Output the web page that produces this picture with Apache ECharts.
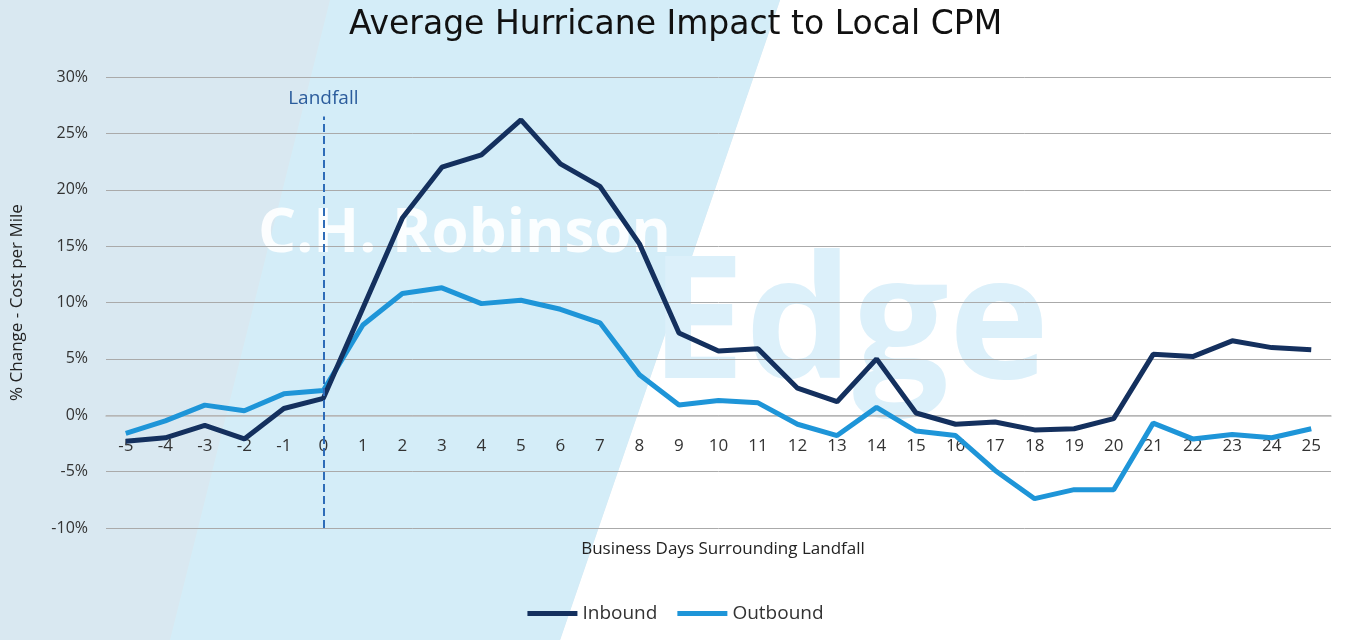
<!DOCTYPE html><html><head><meta charset="utf-8"><script src="https://cdn.jsdelivr.net/npm/echarts@6/dist/echarts.min.js"></script>
<style>html,body{margin:0;padding:0}#c{width:1351px;height:640px}</style></head><body><div id="c"></div><script>
const days=['-5','-4','-3','-2','-1','0','1','2','3','4','5','6','7','8','9','10','11','12','13','14','15','16','17','18','19','20','21','22','23','24','25'];
const inbound=[-2.3,-2.0,-0.9,-2.1,0.6,1.5,9.5,17.5,22.0,23.1,26.2,22.3,20.3,15.2,7.3,5.7,5.9,2.4,1.2,5.0,0.2,-0.8,-0.6,-1.3,-1.2,-0.3,5.4,5.2,6.6,6.0,5.8];
const outbound=[-1.6,-0.5,0.9,0.4,1.9,2.2,8.0,10.8,11.3,9.9,10.2,9.4,8.2,3.6,0.9,1.3,1.1,-0.8,-1.8,0.7,-1.4,-1.8,-4.9,-7.4,-6.6,-6.6,-0.7,-2.1,-1.7,-2.0,-1.2];
const ch=echarts.init(document.getElementById('c'));
ch.setOption({
 backgroundColor:'#ffffff',
 graphic:[
  {type:'polygon',z:-10,shape:{points:[[0,0],[780,0],[560,640],[0,640]]},style:{fill:'#d9e8f1'}},
  {type:'polygon',z:-9,shape:{points:[[330,0],[780,0],[560,640],[170,640]]},style:{fill:'#d4edf8'}},
  {type:'text',z:-8,left:258,top:205,style:{text:'C.H. Robinson',fill:'#ffffff',font:'bold 60px "Open Sans"',opacity:0.9}},
  {type:'text',z:-8,left:650,top:245,style:{text:'Edge',fill:'#dcf0fa',font:'bold 170px "Open Sans"'}}
 ],
 title:[{text:'Average Hurricane Impact to Local CPM',left:'center',top:4,textStyle:{fontFamily:'DejaVu Sans',fontSize:33,fontWeight:'normal',color:'#111'}},
  {text:'Business Days Surrounding Landfall',left:718,textAlign:'center',top:536,textStyle:{fontFamily:'Open Sans',fontSize:17,fontWeight:'normal',color:'#222'}}],
 legend:{bottom:12,left:'center',itemWidth:50,itemGap:20,icon:'rect',itemHeight:5,textStyle:{fontFamily:'Open Sans',fontSize:19,color:'#333'},data:['Inbound','Outbound']},
 grid:{left:106,right:20,top:77,bottom:112,containLabel:false,outerBoundsMode:'none'},
 xAxis:{type:'category',data:days,boundaryGap:true,
  axisLine:{onZero:true,lineStyle:{color:'#bbb',width:1.5}},axisTick:{show:false},axisLabel:{fontFamily:'Open Sans',fontSize:17,color:'#333',interval:0,margin:-90}},
 yAxis:{type:'value',min:-10,max:30,interval:5,name:'% Change - Cost per Mile',nameLocation:'middle',nameGap:80,nameTextStyle:{fontFamily:'Open Sans',fontSize:17,color:'#222'},
  axisLabel:{formatter:'{value}%',fontFamily:'Open Sans',fontSize:16,color:'#333',margin:18},splitLine:{lineStyle:{color:'#aaa',width:1}},axisLine:{show:false},axisTick:{show:false}},
 series:[
  {name:'Inbound',type:'line',data:inbound,showSymbol:false,lineStyle:{color:'#14305e',width:5},itemStyle:{color:'#14305e'},z:3,
   markLine:{symbol:'none',silent:true,lineStyle:{type:'dashed',color:'#2e6cb8',width:2},label:{show:true,position:'end',formatter:'Landfall',fontFamily:'Open Sans',fontSize:19,color:'#2b5c9c',distance:8},
    data:[[{xAxis:5,yAxis:-10},{xAxis:5,yAxis:26.5}]]}},
  {name:'Outbound',type:'line',data:outbound,showSymbol:false,lineStyle:{color:'#1e95d8',width:5},itemStyle:{color:'#1e95d8'},z:2}
 ]
});
</script></body></html>
